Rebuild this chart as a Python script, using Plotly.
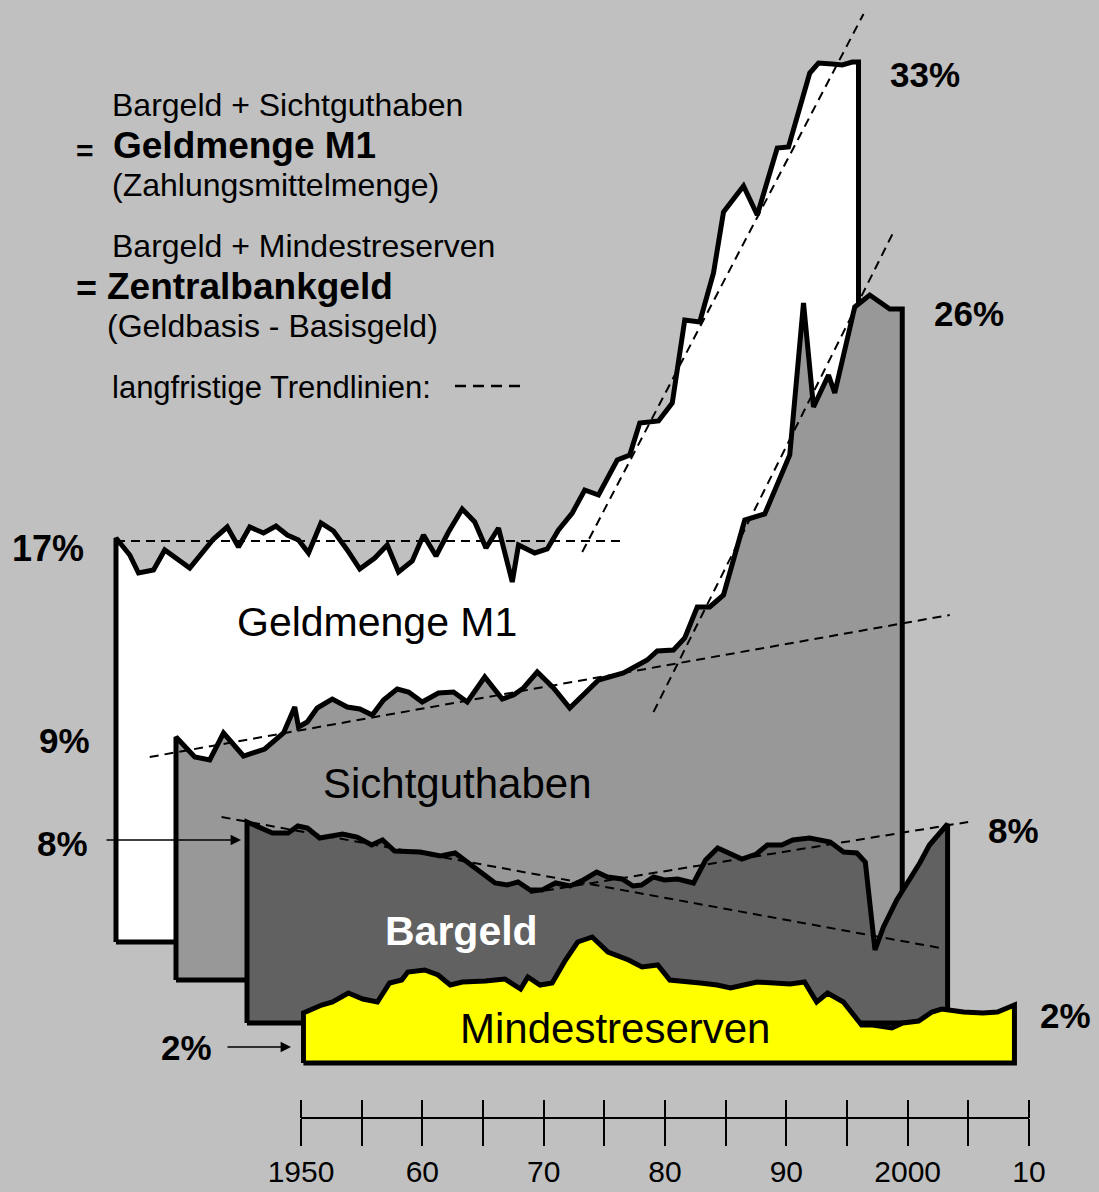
import plotly.graph_objects as go

W, H = 1099, 1192
FONT = "Liberation Sans, Arial, Helvetica, sans-serif"

# ---------------- data (share in %, years) ----------------
m1_years = [1950.0, 1951.1, 1951.8, 1953.0, 1953.9, 1955.9, 1956.9, 1957.8, 1958.9, 1959.8,
            1960.7, 1961.8, 1962.8, 1963.7, 1964.6, 1965.4, 1966.4, 1967.4, 1968.5, 1969.5,
            1970.7, 1971.7, 1972.6, 1973.7, 1974.6, 1975.6, 1976.6, 1977.7, 1978.7, 1979.6,
            1980.6, 1981.7, 1982.2, 1983.5, 1984.5, 1985.4, 1986.5, 1987.5, 1988.6, 1990.1,
            1991.1, 1991.9, 1993.4, 1994.5, 1995.5, 1996.7, 1997.8, 1998.6, 2000.2, 2001.3,
            2002.9, 2003.8, 2005.5, 2006.2, 2007.3, 2008.1, 2008.9, 2009.4]
m1_vals = [16.16, 15.48, 14.76, 14.88, 15.68, 14.96, 15.60, 16.12, 16.60, 15.80,
           16.60, 16.36, 16.64, 16.28, 16.08, 15.56, 16.76, 16.44, 15.68, 14.92,
           15.36, 15.88, 14.80, 15.24, 16.28, 15.44, 16.40, 17.32, 16.80, 15.76,
           16.56, 14.40, 15.88, 15.56, 15.72, 16.48, 17.16, 18.08, 17.88, 19.28,
           19.48, 20.76, 20.84, 21.56, 24.88, 24.80, 26.76, 29.20, 30.24, 29.08,
           31.76, 31.80, 34.76, 35.16, 35.12, 35.08, 35.20, 35.20]

sicht_years = [1950.0, 1951.5, 1952.7, 1953.8, 1955.4, 1957.1, 1958.6, 1959.5, 1959.8, 1960.5,
               1961.3, 1962.5, 1963.7, 1964.7, 1965.7, 1966.6, 1967.7, 1968.6, 1969.7, 1971.0,
               1972.2, 1973.3, 1974.7, 1976.1, 1977.0, 1977.8, 1978.9, 1980.2, 1981.5, 1983.8,
               1985.8, 1987.7, 1988.5, 1989.8, 1990.7, 1991.7, 1992.7, 1993.8, 1995.5, 1997.1,
               1999.1, 2000.2, 2001.0, 2002.2, 2002.7, 2004.3, 2005.5, 2007.1, 2008.1]
sicht_vals = [9.72, 8.92, 8.80, 9.88, 8.96, 9.24, 9.88, 10.92, 10.12, 10.32,
              10.88, 11.24, 10.92, 10.84, 10.60, 11.20, 11.64, 11.52, 11.12, 11.48,
              11.52, 11.12, 12.12, 11.24, 11.40, 11.68, 12.32, 11.68, 10.88, 12.00,
              12.28, 12.80, 13.16, 13.20, 13.68, 14.92, 14.92, 15.40, 18.40, 18.64,
              21.00, 27.08, 22.92, 24.20, 23.48, 26.92, 27.40, 26.84, 26.84]

bargeld_years = [1950.0, 1952.1, 1953.4, 1954.2, 1955.0, 1956.0, 1957.9, 1959.1, 1960.3, 1961.2,
                 1962.2, 1964.3, 1966.0, 1967.2, 1968.2, 1969.3, 1970.5, 1971.5, 1972.4, 1973.4,
                 1974.4, 1975.5, 1976.7, 1977.8, 1978.9, 1979.8, 1981.0, 1981.9, 1982.6, 1983.6,
                 1984.5, 1985.6, 1986.9, 1987.9, 1988.9, 1990.9, 1992.1, 1993.0, 1994.2, 1995.1,
                 1996.5, 1998.2, 1999.3, 2000.4, 2001.1, 2001.9, 2002.6, 2003.7, 2005.6, 2006.4,
                 2007.9]
bargeld_vals = [8.04, 7.60, 7.60, 7.88, 7.80, 7.40, 7.56, 7.44, 7.12, 7.32,
                6.88, 6.84, 6.68, 6.80, 6.44, 6.00, 5.60, 5.52, 5.64, 5.32,
                5.32, 5.60, 5.48, 5.72, 6.04, 5.84, 5.76, 5.48, 5.52, 5.84,
                5.72, 5.76, 5.60, 6.52, 7.00, 6.56, 6.76, 7.12, 7.12, 7.32,
                7.40, 7.24, 6.84, 6.80, 6.44, 2.92, 3.84, 4.92, 6.40, 7.12,
                7.96]

mr_years = [1950.2, 1951.7, 1952.6, 1953.9, 1955.1, 1956.3, 1957.3, 1958.3, 1958.8, 1960.2,
            1961.3, 1962.3, 1963.3, 1965.2, 1966.8, 1968.1, 1968.7, 1969.7, 1970.7, 1971.8,
            1972.8, 1974.0, 1975.3, 1977.0, 1978.1, 1979.4, 1980.4, 1982.9, 1984.3, 1985.4,
            1987.6, 1990.3, 1991.5, 1992.5, 1993.4, 1994.7, 1996.2, 1997.1, 1998.7, 1999.6,
            2000.9, 2002.0, 2002.8, 2004.6, 2006.2, 2007.4, 2008.8]
mr_vals = [2.00, 2.32, 2.44, 2.80, 2.56, 2.44, 3.20, 3.32, 3.64, 3.72,
           3.52, 3.12, 3.24, 3.28, 3.36, 2.96, 3.44, 3.12, 3.20, 4.12,
           4.84, 5.04, 4.44, 4.12, 3.84, 3.92, 3.32, 3.20, 3.12, 3.00,
           3.24, 3.16, 3.24, 2.44, 2.80, 2.44, 1.52, 1.52, 1.40, 1.60,
           1.68, 2.04, 2.16, 2.04, 2.00, 2.04, 2.32]

# long-term trend lines (start/end)
m1_trend_flat_x, m1_trend_flat_y = [1950.0, 1990.7], [16.04, 16.04]
m1_trend_steep_x, m1_trend_steep_y = [1987.3, 2009.8], [15.6, 37.12]
sicht_trend_flat_x, sicht_trend_flat_y = [1947.9, 2011.9], [8.92, 14.6]
sicht_trend_steep_x, sicht_trend_steep_y = [1988.2, 2007.4], [10.72, 29.92]
bargeld_trend_down_x, bargeld_trend_down_y = [1947.9, 2007.3], [8.24, 3.0]
bargeld_trend_up_x, bargeld_trend_up_y = [1973.4, 2009.6], [5.2, 8.04]

tick_years = list(range(1950, 2011, 5))
tick_labels = ["1950", "", "60", "", "70", "", "80", "", "90", "", "2000", "", "10"]

# ---------------- figure ----------------
fig = go.Figure()


def layer(years, vals, xa, ya, color):
    xs = [years[0]] + list(years) + [years[-1], years[0]]
    ys = [0] + list(vals) + [0, 0]
    return go.Scatter(x=xs, y=ys, xaxis=xa, yaxis=ya, mode="lines", fill="toself",
                      fillcolor=color, line=dict(color="black", width=5),
                      hoverinfo="skip", showlegend=False)


def trend(xs, ys, xa, ya):
    return go.Scatter(x=xs, y=ys, xaxis=xa, yaxis=ya, mode="lines",
                      line=dict(color="black", width=2, dash="9px,6px"),
                      hoverinfo="skip", showlegend=False)


fig.add_trace(layer(m1_years, m1_vals, "x", "y", "#FFFFFF"))
fig.add_trace(trend(m1_trend_flat_x, m1_trend_flat_y, "x", "y"))
fig.add_trace(trend(m1_trend_steep_x, m1_trend_steep_y, "x", "y"))

fig.add_trace(layer(sicht_years, sicht_vals, "x2", "y2", "#989898"))
fig.add_trace(trend(sicht_trend_flat_x, sicht_trend_flat_y, "x2", "y2"))
fig.add_trace(trend(sicht_trend_steep_x, sicht_trend_steep_y, "x2", "y2"))

fig.add_trace(layer(bargeld_years, bargeld_vals, "x3", "y3", "#616161"))
fig.add_trace(trend(bargeld_trend_down_x, bargeld_trend_down_y, "x3", "y3"))
fig.add_trace(trend(bargeld_trend_up_x, bargeld_trend_up_y, "x3", "y3"))

fig.add_trace(layer(mr_years, mr_vals, "x4", "y4", "#FFFF00"))
# same series on the overlaid axis that carries the upward tick marks
fig.add_trace(go.Scatter(x=mr_years, y=mr_vals, xaxis="x5", yaxis="y4", mode="lines",
                         line=dict(width=0, color="rgba(0,0,0,0)"), hoverinfo="skip",
                         showlegend=False))

PX = 25.0  # pixels per percentage point


def yrange(base_px):
    return [(base_px - H) / PX, base_px / PX]


def xrange(x0_px, px_per_year):
    return [1950 - x0_px / px_per_year, 1950 + (W - x0_px) / px_per_year]


hidden = dict(visible=False, showgrid=False, zeroline=False, fixedrange=True, automargin=False)
axis_y = 1 - 1118 / H

fig.update_layout(
    width=W, height=H, autosize=False,
    margin=dict(l=0, r=0, t=0, b=0, pad=0, autoexpand=False),
    paper_bgcolor="#C0C0C0", plot_bgcolor="rgba(0,0,0,0)",
    font=dict(family=FONT, color="black"),
    showlegend=False,
    xaxis=dict(domain=[0, 1], range=xrange(116, 12.5), anchor="y", **hidden),
    yaxis=dict(domain=[0, 1], range=yrange(942), anchor="x", **hidden),
    xaxis2=dict(domain=[0, 1], range=xrange(176, 12.5), anchor="y2", **hidden),
    yaxis2=dict(domain=[0, 1], range=yrange(980), anchor="x2", **hidden),
    xaxis3=dict(domain=[0, 1], range=xrange(247, 12.1), anchor="y3", **hidden),
    yaxis3=dict(domain=[0, 1], range=yrange(1023), anchor="x3", **hidden),
    xaxis4=dict(domain=[301 / W, 1029 / W], range=[1950, 2010], anchor="free",
                position=axis_y, side="bottom", showgrid=False, zeroline=False,
                showline=True, linecolor="black", linewidth=2,
                ticks="outside", ticklen=27, tickwidth=2, tickcolor="black",
                tickmode="array", tickvals=tick_years, ticktext=tick_labels,
                tickfont=dict(size=30, family=FONT, color="black"),
                ticklabelstandoff=0, fixedrange=True, automargin=False),
    xaxis5=dict(domain=[301 / W, 1029 / W], range=[1950, 2010], anchor="free",
                overlaying="x4", position=axis_y, side="top", showgrid=False,
                zeroline=False, showline=False, ticks="outside", ticklen=18,
                tickwidth=2, tickcolor="black", tickmode="array",
                tickvals=tick_years, showticklabels=False, fixedrange=True,
                automargin=False),
    yaxis4=dict(domain=[0, 1], range=yrange(1063), anchor="x4", **hidden),
)


def P(px, py):
    return px / W, 1 - py / H


ann = []


def text(s, px, py, size, bold=False, color="black", xanchor="left"):
    x, y = P(px, py)
    ann.append(dict(x=x, y=y, xref="paper", yref="paper", text=f"<b>{s}</b>" if bold else s,
                    showarrow=False, xanchor=xanchor, yanchor="middle",
                    font=dict(size=size, color=color, family=FONT)))


# explanation block
text("Bargeld + Sichtguthaben", 110, 105, 32)
text("=", 74, 150, 30, bold=True)
text("Geldmenge M1", 111, 146, 37, bold=True)
text("(Zahlungsmittelmenge)", 110, 185, 32)
text("Bargeld + Mindestreserven", 110, 246, 32)
text("=", 74, 288, 36, bold=True)
text("Zentralbankgeld", 105, 287, 37, bold=True)
text("(Geldbasis - Basisgeld)", 105, 326, 32)
text("langfristige Trendlinien:", 110, 387, 31)

# layer names
text("Geldmenge M1", 377, 622, 41, xanchor="center")
text("Sichtguthaben", 457, 783, 42, xanchor="center")
text("Bargeld", 461, 931, 41, bold=True, color="white", xanchor="center")
text("Mindestreserven", 615, 1028, 42, xanchor="center")

# percentages
text("33%", 925, 75, 35, bold=True, xanchor="center")
text("26%", 969, 313, 35, bold=True, xanchor="center")
text("17%", 48, 548, 36, bold=True, xanchor="center")
text("9%", 64, 740, 35, bold=True, xanchor="center")
text("8%", 62, 843, 35, bold=True, xanchor="center")
text("8%", 1013, 830, 35, bold=True, xanchor="center")
text("2%", 1065, 1015, 35, bold=True, xanchor="center")
text("2%", 186, 1047, 35, bold=True, xanchor="center")

# arrows
for (hx, hy, tx) in [(241, 840, 105), (291, 1047, 226)]:
    x, y = P(hx, hy)
    ann.append(dict(x=x, y=y, xref="paper", yref="paper", text="", showarrow=True,
                    ax=tx - hx, ay=0, arrowhead=2, arrowsize=1.3, arrowwidth=1.6,
                    arrowcolor="black"))

fig.update_layout(annotations=ann)

# dashed legend sample
lx0, ly = P(455, 386)
lx1, _ = P(522, 386)
fig.add_shape(type="line", xref="paper", yref="paper", x0=lx0, x1=lx1, y0=ly, y1=ly,
              line=dict(color="black", width=2.5, dash="11px,7px"))

fig.write_html("out.html", config={"displayModeBar": False, "staticPlot": True},
               post_script="document.body.style.margin='0';document.body.style.overflow='hidden';")
